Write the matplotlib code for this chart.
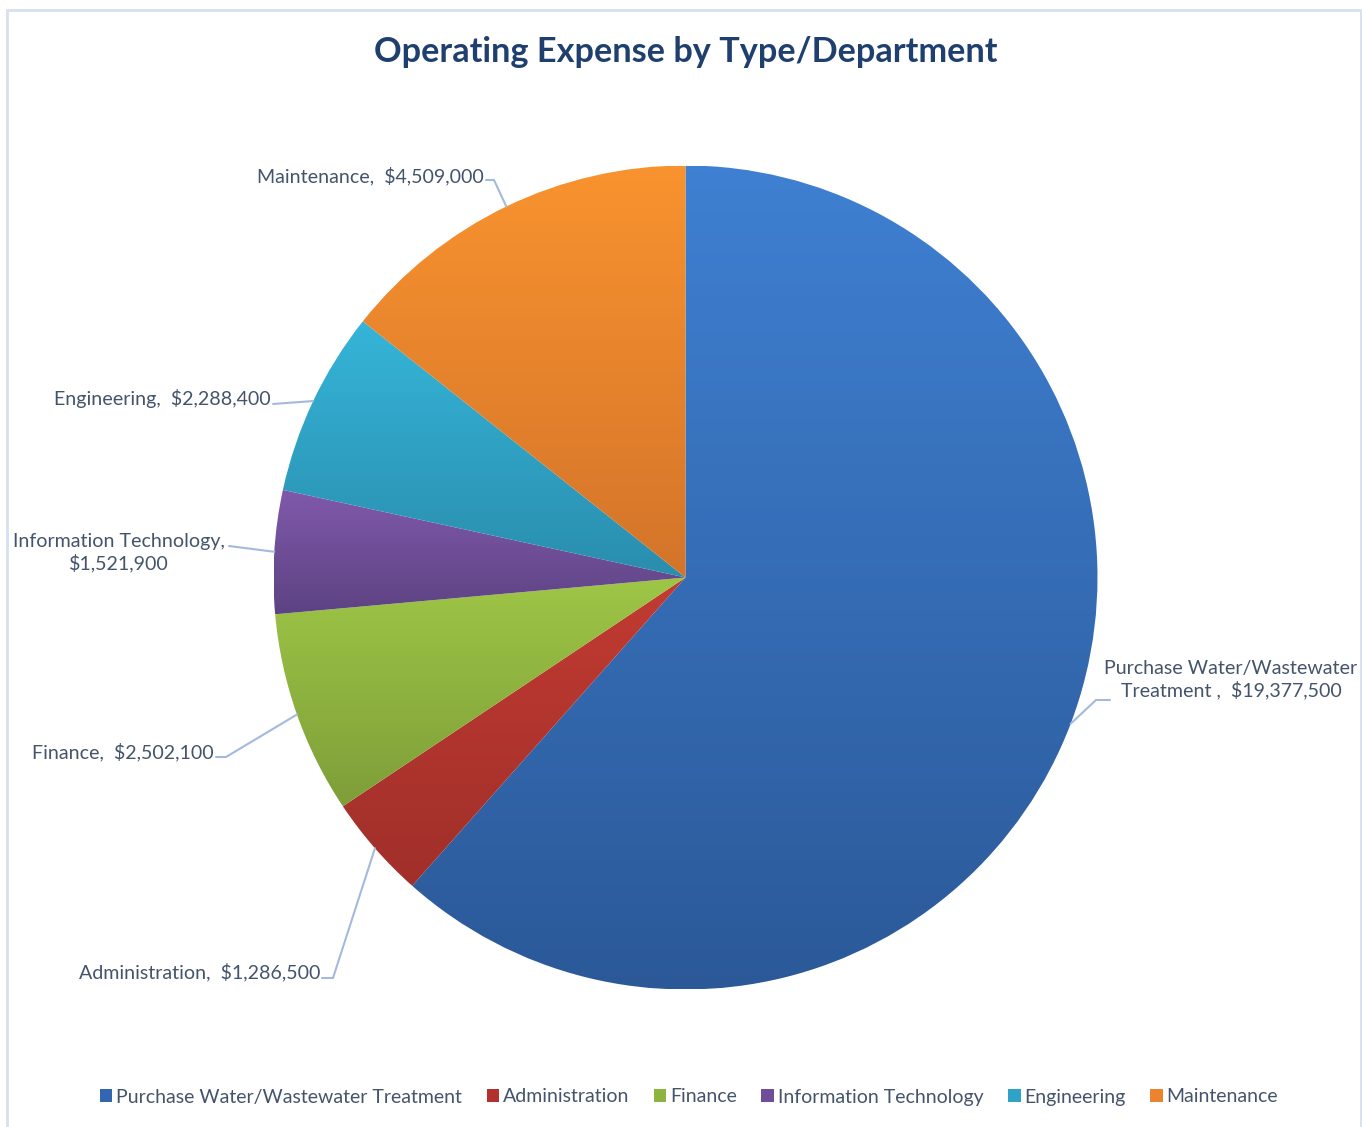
import numpy as np
import matplotlib
matplotlib.use("Agg")
import matplotlib.pyplot as plt
from matplotlib.colors import LinearSegmentedColormap
from matplotlib.patches import Rectangle

# ---- data ----
categories = ["Purchase Water/Wastewater Treatment", "Administration", "Finance",
              "Information Technology", "Engineering", "Maintenance"]
values = [19377500, 1286500, 2502100, 1521900, 2288400, 4509000]
label_texts = ["Purchase Water/Wastewater\nTreatment ,  $19,377,500",
               "Administration,  $1,286,500",
               "Finance,  $2,502,100",
               "Information Technology,\n$1,521,900",
               "Engineering,  $2,288,400",
               "Maintenance,  $4,509,000"]
title = "Operating Expense by Type/Department"

# ---- styling ----
top_colors = ["#3F80D2", "#C23B32", "#9EC646", "#8059AB", "#35B5D9", "#F9932F"]
bottom_colors = ["#2B5998", "#A02F2A", "#7E9E39", "#5D4383", "#2A8DAD", "#D3742A"]
legend_colors = ["#3366B0", "#B4302C", "#8DB43E", "#6E4E99", "#2FA2C5", "#EB842D"]
text_color = "#44546A"
title_color = "#1F3F6E"
leader_color = "#A3BADC"
FONT = "Lato"

W, H = 1362, 1127
fig = plt.figure(figsize=(W / 100, H / 100), dpi=100)
fig.patch.set_facecolor("white")

# outer chart frame
fig.add_artist(Rectangle((7 / W, -0.01), (1361 - 7) / W, (H - 10) / H + 0.01,
                         transform=fig.transFigure, fill=False,
                         edgecolor="#D6E0EE", linewidth=2.0))

# pie axes placed by pixel geometry
cx, cy, R = 685.5, 577.5, 412.0
ax = fig.add_axes([(cx - R) / W, (H - cy - R) / H, 2 * R / W, 2 * R / H])
ax.set_xlim(-1, 1)
ax.set_ylim(-1, 1)
ax.set_aspect("equal")
ax.axis("off")


def px(x, y):
    """pixel position (from top-left of figure) -> pie data coordinates"""
    return (x - cx) / R, (cy - y) / R


wedges, _ = ax.pie(values, startangle=90, counterclock=False, radius=1.0,
                   colors=legend_colors, wedgeprops=dict(linewidth=0))

# vertical gradient fill for every slice
grad = np.linspace(0, 1, 256).reshape(-1, 1)
for w, c0, c1 in zip(wedges, top_colors, bottom_colors):
    path = w.get_path()
    verts = w.get_transform().transform(path.vertices)
    verts = ax.transData.inverted().transform(verts)
    x0, y0 = verts.min(axis=0)
    x1, y1 = verts.max(axis=0)
    cmap = LinearSegmentedColormap.from_list("g", [c0, c1])
    im = ax.imshow(grad, cmap=cmap, extent=(x0, x1, y0, y1), origin="upper",
                   aspect="auto", zorder=w.get_zorder() + 0.1, interpolation="bilinear")
    im.set_clip_path(w)
    w.set_facecolor("none")
ax.set_xlim(-1, 1)
ax.set_ylim(-1, 1)

# data labels with leader lines
mid_angles = [np.deg2rad((w.theta1 + w.theta2) / 2) for w in wedges]

# (text x, text y, ha, leader waypoints in pixels)
label_layout = [
    (1231, 680, "center", [(1110, 700), (1096, 700)]),
    (320, 972, "right", [(322, 978), (333, 978)]),
    (214, 752, "right", [(216, 757), (226, 757)]),
    (119, 553, "center", [(229, 546)]),
    (271, 398, "right", [(273, 404)]),
    (484, 176, "right", [(486, 180), (494, 180)]),
]

for txt, ang, (tx, ty, ha, pts) in zip(label_texts, mid_angles, label_layout):
    xs, ys = zip(*[px(*p) for p in pts])
    ex, ey = np.cos(ang), np.sin(ang)
    ax.plot(list(xs) + [ex], list(ys) + [ey], color=leader_color, lw=1.5,
            clip_on=False, zorder=5, solid_capstyle="round")
    dx, dy = px(tx, ty)
    ax.text(dx, dy, txt, ha=ha, va="center", color=text_color, fontsize=14.1,
            family=FONT, clip_on=False, linespacing=1.25)

# title
fig.text(686 / W, 1 - 52 / H, title, ha="center", va="center", color=title_color,
         fontsize=24.7, fontweight="bold", family=FONT)

# legend
handles = [Rectangle((0, 0), 1, 1, facecolor=c, edgecolor="none") for c in legend_colors]
leg = fig.legend(handles, categories, loc="center", bbox_to_anchor=(689 / W, 1 - 1097 / H),
                 ncol=6, frameon=False, handlelength=0.65, handleheight=0.65,
                 handletextpad=0.2, columnspacing=1.25,
                 prop=dict(family=FONT, size=14))
for t in leg.get_texts():
    t.set_color(text_color)

fig.savefig("out.png", dpi=100, facecolor="white")
